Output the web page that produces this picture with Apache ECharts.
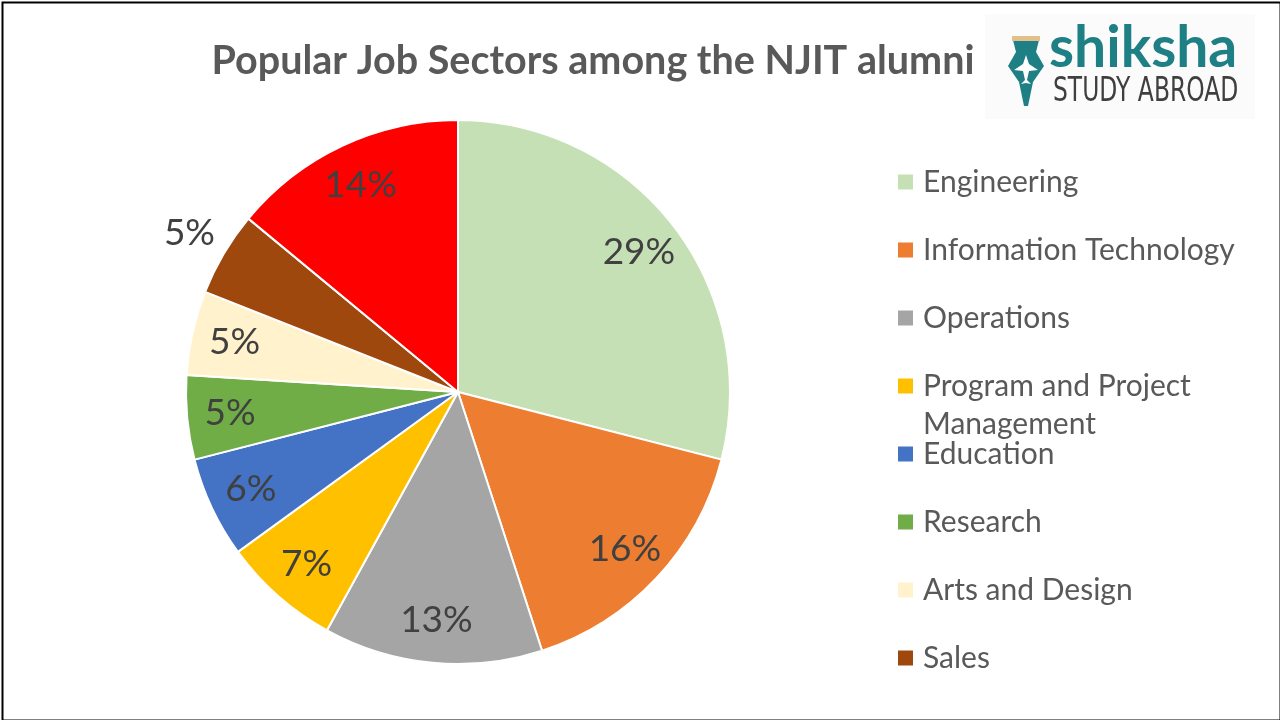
<!DOCTYPE html>
<html>
<head>
<meta charset="utf-8">
<script src="https://cdn.jsdelivr.net/npm/echarts@6/dist/echarts.min.js"></script>
<style>
html,body{margin:0;padding:0;background:#fff;}
#chart{width:1280px;height:720px;}
</style>
</head>
<body>
<div id="chart"></div>
<script>
const titleText = 'Popular Job Sectors among the NJIT alumni';
const categories = ['Engineering', 'Information Technology', 'Operations', 'Program and Project Management', 'Education', 'Research', 'Arts and Design', 'Sales', 'Others'];
const values = [29, 16, 13, 7, 6, 5, 5, 5, 14];
const colors = ['#C5E0B4', '#ED7D31', '#A5A5A5', '#FFC000', '#4472C4', '#70AD47', '#FFF2CC', '#9E480E', '#FF0000'];
const legendNamesTop = ['Engineering', 'Information Technology', 'Operations'];
const legendNamesWrapped = ['Program and Project Management'];
const legendNamesBottom = ['Education', 'Research', 'Arts and Design', 'Sales'];
const outsideLabels = ['Sales'];

const chart = echarts.init(document.getElementById('chart'), null, {renderer: 'canvas'});

const center = [458, 392];
const R = 272;

const mainData = categories.map((n, i) => ({name: n, value: values[i], itemStyle: {color: colors[i]}}));
const innerLabelData = categories.map((n, i) => ({name: n, value: values[i], label: {show: outsideLabels.indexOf(n) < 0}}));
const outerLabelData = categories.map((n, i) => ({name: n, value: values[i], label: {show: outsideLabels.indexOf(n) >= 0}}));

const labelStyle = {
  position: 'inside',
  formatter: '{c}%',
  fontFamily: 'Lato',
  fontSize: 37,
  color: '#404040'
};

const legendText = {
  fontFamily: 'Lato',
  fontSize: 30,
  lineHeight: 38,
  color: '#595959',
  padding: [0, 0, 0, 5]
};

function makeLegend(names, top, extra) {
  return Object.assign({
    orient: 'vertical',
    left: 898,
    top: top,
    padding: 0,
    itemGap: 30,
    itemWidth: 15,
    itemHeight: 15,
    icon: 'rect',
    selectedMode: false,
    itemStyle: {borderWidth: 0},
    data: names.map(n => ({name: n, itemStyle: {color: colors[categories.indexOf(n)], borderWidth: 0}})),
    formatter: function (name) {
      return name === 'Program and Project Management' ? 'Program and Project\nManagement' : name;
    },
    textStyle: legendText
  }, extra || {});
}

const option = {
  backgroundColor: '#ffffff',
  animation: false,
  title: {
    text: titleText,
    left: 588,
    textAlign: 'center',
    top: 36,
    textStyle: {fontFamily: 'Lato', fontWeight: 'bold', fontSize: 39.5, color: '#595959'}
  },
  legend: [
    makeLegend(legendNamesTop, 163),
    // icon box is tall; square drawn at its top so it aligns with the first text line
    makeLegend(legendNamesWrapped, 367, {itemHeight: 53, icon: 'path://M0,0L15,0L15,15L0,15Z M0,53L15,53'}),
    makeLegend(legendNamesBottom, 435)
  ],
  graphic: [
    {type: 'rect', left: 0, top: 0, shape: {width: 1278, height: 718}, style: {fill: 'none', stroke: '#000', lineWidth: 2}, z: 100, silent: true},
    {type: 'rect', left: 985, top: 14, shape: {width: 270, height: 105}, style: {fill: '#fbfbfb'}, z: -1, silent: true},
    {type: 'polygon', shape: {points: [[1013,40],[1039,40],[1036,52],[1044,66],[1033,82],[1028,106],[1024,106],[1019,82],[1008,66],[1016,52]]}, style: {fill: '#1E7F84'}, silent: true},
    {type: 'rect', shape: {x: 1012, y: 36, width: 28, height: 5}, style: {fill: '#E3C08A'}, silent: true},
    {type: 'polygon', shape: {points: [[1026,55],[1029,64],[1038,70],[1029,71],[1027,80],[1031,84],[1026,83],[1021,84],[1025,80],[1023,71],[1014,70],[1023,64]]}, style: {fill: '#ffffff'}, silent: true},
    {type: 'text', x: 1049, y: 20, style: {text: 'shiksha', font: 'bold 57px Lato', fill: '#1E7F84'}, silent: true},
    {type: 'text', x: 1053, y: 76, scaleX: 0.71, style: {text: 'STUDY ABROAD', font: '33px "DejaVu Sans", sans-serif', fill: '#3f3f3f'}, silent: true}
  ],
  series: [
    {
      type: 'pie',
      center: center,
      radius: [0, R],
      startAngle: 90,
      clockwise: true,
      label: {show: false},
      labelLine: {show: false},
      itemStyle: {borderColor: '#ffffff', borderWidth: 2},
      emphasis: {disabled: true},
      data: mainData
    },
    {
      type: 'pie',
      center: center,
      radius: [180, R],
      startAngle: 90,
      clockwise: true,
      silent: true,
      itemStyle: {color: 'transparent', borderWidth: 0},
      label: labelStyle,
      labelLine: {show: false},
      emphasis: {disabled: true},
      data: innerLabelData
    },
    {
      type: 'pie',
      center: center,
      radius: [R, 346],
      startAngle: 90,
      clockwise: true,
      silent: true,
      itemStyle: {color: 'transparent', borderWidth: 0},
      label: labelStyle,
      labelLine: {show: false},
      emphasis: {disabled: true},
      data: outerLabelData
    }
  ]
};
chart.setOption(option);
</script>
</body>
</html>
